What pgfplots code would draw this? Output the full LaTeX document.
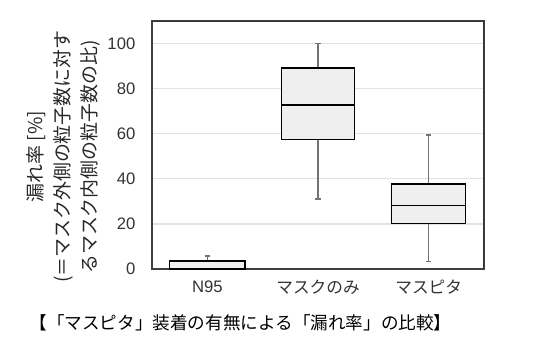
\documentclass[border=0pt]{standalone}
\usepackage{fontspec}
\setmainfont{Liberation Sans}
\newfontfamily\cjk{Noto Sans CJK JP}
\usepackage{pgfplots}
\pgfplotsset{compat=1.18}
\usepgfplotslibrary{statistics}
\definecolor{boxfill}{HTML}{EFEFEF}
\definecolor{gridc}{HTML}{E2E2E2}
\begin{document}
\begin{tikzpicture}
\useasboundingbox (0pt,0pt) rectangle (408.75pt,268.5pt);
\begin{axis}[
  name=ax,
  at={(114pt,66.75pt)}, anchor=south west,
  scale only axis, width=249pt, height=186pt,
  xmin=0.5, xmax=3.5, ymin=0, ymax=110,
  ytick={0,20,40,60,80,100},
  xtick={1,2,3},
  xticklabels={N95,{\cjk マスクのみ},{\cjk マスピタ}},
  ymajorgrids, grid style={gridc, line width=0.9pt},
  major tick length=0pt,
  axis line style={black!75, line width=1.1pt},
  tick label style={font=\fontsize{12.5}{14}\selectfont, text=black!80},
  /pgf/number format/assume math mode=true,
  yticklabel shift=9pt,
  xticklabel shift=5pt,
  clip=false,
  boxplot/draw direction=y,
  boxplot/every whisker/.style={black!55, line width=1pt},
  boxplot/every median/.style={black, line width=1.1pt},
  boxplot/every box/.style={draw=black, line width=1.1pt, fill=boxfill},
]
\addplot+[boxplot prepared={lower whisker=0, lower quartile=0, median=0.1, upper quartile=3.6, upper whisker=5.8, draw position=1, box extend=0.68, whisker extend=0.05}, draw=black, mark=none] coordinates {};
\addplot+[boxplot prepared={lower whisker=31.1, lower quartile=57.5, median=72.7, upper quartile=89.2, upper whisker=100, draw position=2, box extend=0.66, whisker extend=0.05}, draw=black, mark=none] coordinates {};
\addplot+[boxplot prepared={lower whisker=3.4, lower quartile=20.3, median=28.1, upper quartile=37.8, upper whisker=59.4, draw position=3, box extend=0.67, whisker extend=0.05}, draw=black, mark=none] coordinates {};
\addplot[black!80, line width=1.2pt, mark=none] coordinates {(0.5,109.7) (3.497,109.7) (3.497,0)};
\end{axis}
\node[rotate=90, align=center, font=\cjk\fontsize{14.2}{20}\selectfont, text=black!85] at (47.5pt,151pt)
  {漏れ率 [\%]\\(＝マスク外側の粒子数に対す\\るマスク内側の粒子数の比)};
\node[font=\cjk\fontsize{13.2}{15}\selectfont] at (180.4pt,26.25pt) {【「マスピタ」装着の有無による「漏れ率」の比較】};
\end{tikzpicture}
\end{document}
